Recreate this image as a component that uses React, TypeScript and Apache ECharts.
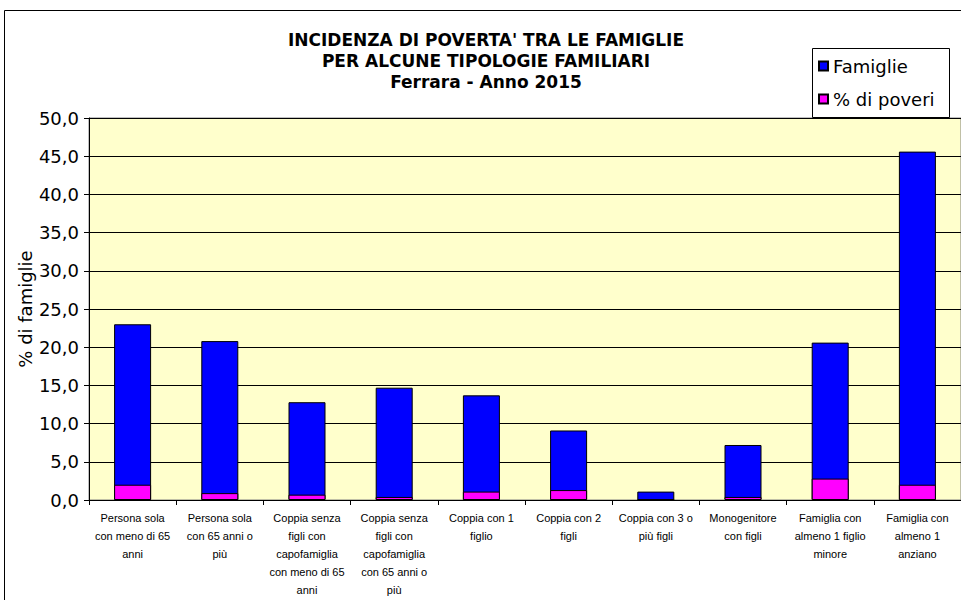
import React, { useEffect, useRef } from "react";
import * as echarts from "echarts";

const categories = [
  "Persona sola\ncon meno di 65\nanni",
  "Persona sola\ncon 65 anni o\npiù",
  "Coppia senza\nfigli con\ncapofamiglia\ncon meno di 65\nanni",
  "Coppia senza\nfigli con\ncapofamiglia\ncon 65 anni o\npiù",
  "Coppia con 1\nfiglio",
  "Coppia con 2\nfigli",
  "Coppia con 3 o\npiù figli",
  "Monogenitore\ncon figli",
  "Famiglia con\nalmeno 1 figlio\nminore",
  "Famiglia con\nalmeno 1\nanziano",
];
const famiglie = [23.0, 20.8, 12.8, 14.7, 13.7, 9.1, 1.1, 7.2, 20.6, 45.6];
const poveri = [2.0, 0.9, 0.7, 0.4, 1.1, 1.3, 0, 0.4, 2.8, 2.0];
const seriesNames = ["Famiglie", "% di poveri"];
const titleLines = [
  "INCIDENZA DI POVERTA' TRA LE FAMIGLIE",
  "PER ALCUNE TIPOLOGIE FAMILIARI",
  "Ferrara - Anno 2015",
];
const yName = "% di famiglie";

export default function App() {
  const ref = useRef<HTMLDivElement>(null);
  useEffect(() => {
    if (!ref.current) return;
    const chart = echarts.init(ref.current, undefined, { renderer: "svg" });
    chart.setOption({
      animation: false,
      backgroundColor: "#ffffff",
      title: {
        text: titleLines.join("\n"),
        left: 486,
        top: 29,
        textAlign: "center",
        padding: 0,
        textStyle: {
          fontFamily: "DejaVu Sans",
          fontWeight: "bold",
          fontSize: 17,
          lineHeight: 21,
          color: "#000",
        },
      },
      graphic: [
        {
          type: "rect",
          shape: { x: 4.5, y: 10.5, width: 1000, height: 1000 },
          style: { fill: "none", stroke: "#000", lineWidth: 1 },
          silent: true,
          z: 0,
        },
        {
          type: "rect",
          shape: { x: 812.5, y: 48.5, width: 137, height: 69 },
          style: { fill: "#fff", stroke: "#000", lineWidth: 1 },
          silent: true,
          z: 20,
        },
      ],
      legend: {
        orient: "vertical",
        left: 818,
        top: 57,
        padding: 0,
        itemGap: 15,
        itemWidth: 9,
        itemHeight: 9,
        icon: "rect",
        z: 30,
        textStyle: {
          fontFamily: "DejaVu Sans",
          fontSize: 18,
          color: "#000",
          padding: [0, 0, 0, 0],
        },
        data: seriesNames,
      },
      grid: {
        left: 89,
        top: 118,
        width: 878,
        height: 382,
        show: true,
        backgroundColor: "#FFFFCC",
        borderColor: "#808080",
        borderWidth: 1,
      },
      xAxis: {
        type: "category",
        data: categories,
        axisLine: { lineStyle: { color: "#000", width: 1 } },
        axisTick: { show: true, length: 5, lineStyle: { color: "#000" } },
        axisLabel: {
          interval: 0,
          margin: 9,
          fontFamily: "Liberation Sans",
          fontSize: 11,
          lineHeight: 18,
          color: "#000",
        },
      },
      yAxis: {
        type: "value",
        min: 0,
        max: 50,
        interval: 5,
        name: yName,
        nameLocation: "middle",
        nameGap: 55,
        nameRotate: 90,
        nameMoveOverlap: false,
        nameTextStyle: {
          fontFamily: "DejaVu Sans",
          fontSize: 18,
          color: "#000",
        },
        axisLine: { show: true, lineStyle: { color: "#000", width: 1 } },
        axisTick: { show: true, length: 5, lineStyle: { color: "#000" } },
        axisLabel: {
          margin: 10,
          fontFamily: "DejaVu Sans",
          fontSize: 18,
          color: "#000",
          formatter: (v: number) => v.toFixed(1).replace(".", ","),
        },
        splitLine: { show: true, lineStyle: { color: "#000", width: 1 } },
      },
      series: [
        {
          name: seriesNames[0],
          type: "bar",
          data: famiglie,
          barWidth: 37,
          barGap: "-100%",
          itemStyle: { color: "#0000FF", borderColor: "#000", borderWidth: 1 },
          z: 2,
        },
        {
          name: seriesNames[1],
          type: "bar",
          data: poveri,
          barWidth: 37,
          barGap: "-100%",
          itemStyle: { color: "#FF00FF", borderColor: "#000", borderWidth: 1 },
          z: 3,
        },
      ],
    });
    return () => chart.dispose();
  }, []);
  return (
    <div
      ref={ref}
      style={{ position: "fixed", left: 0, top: 0, width: 961, height: 600 }}
    />
  );
}
